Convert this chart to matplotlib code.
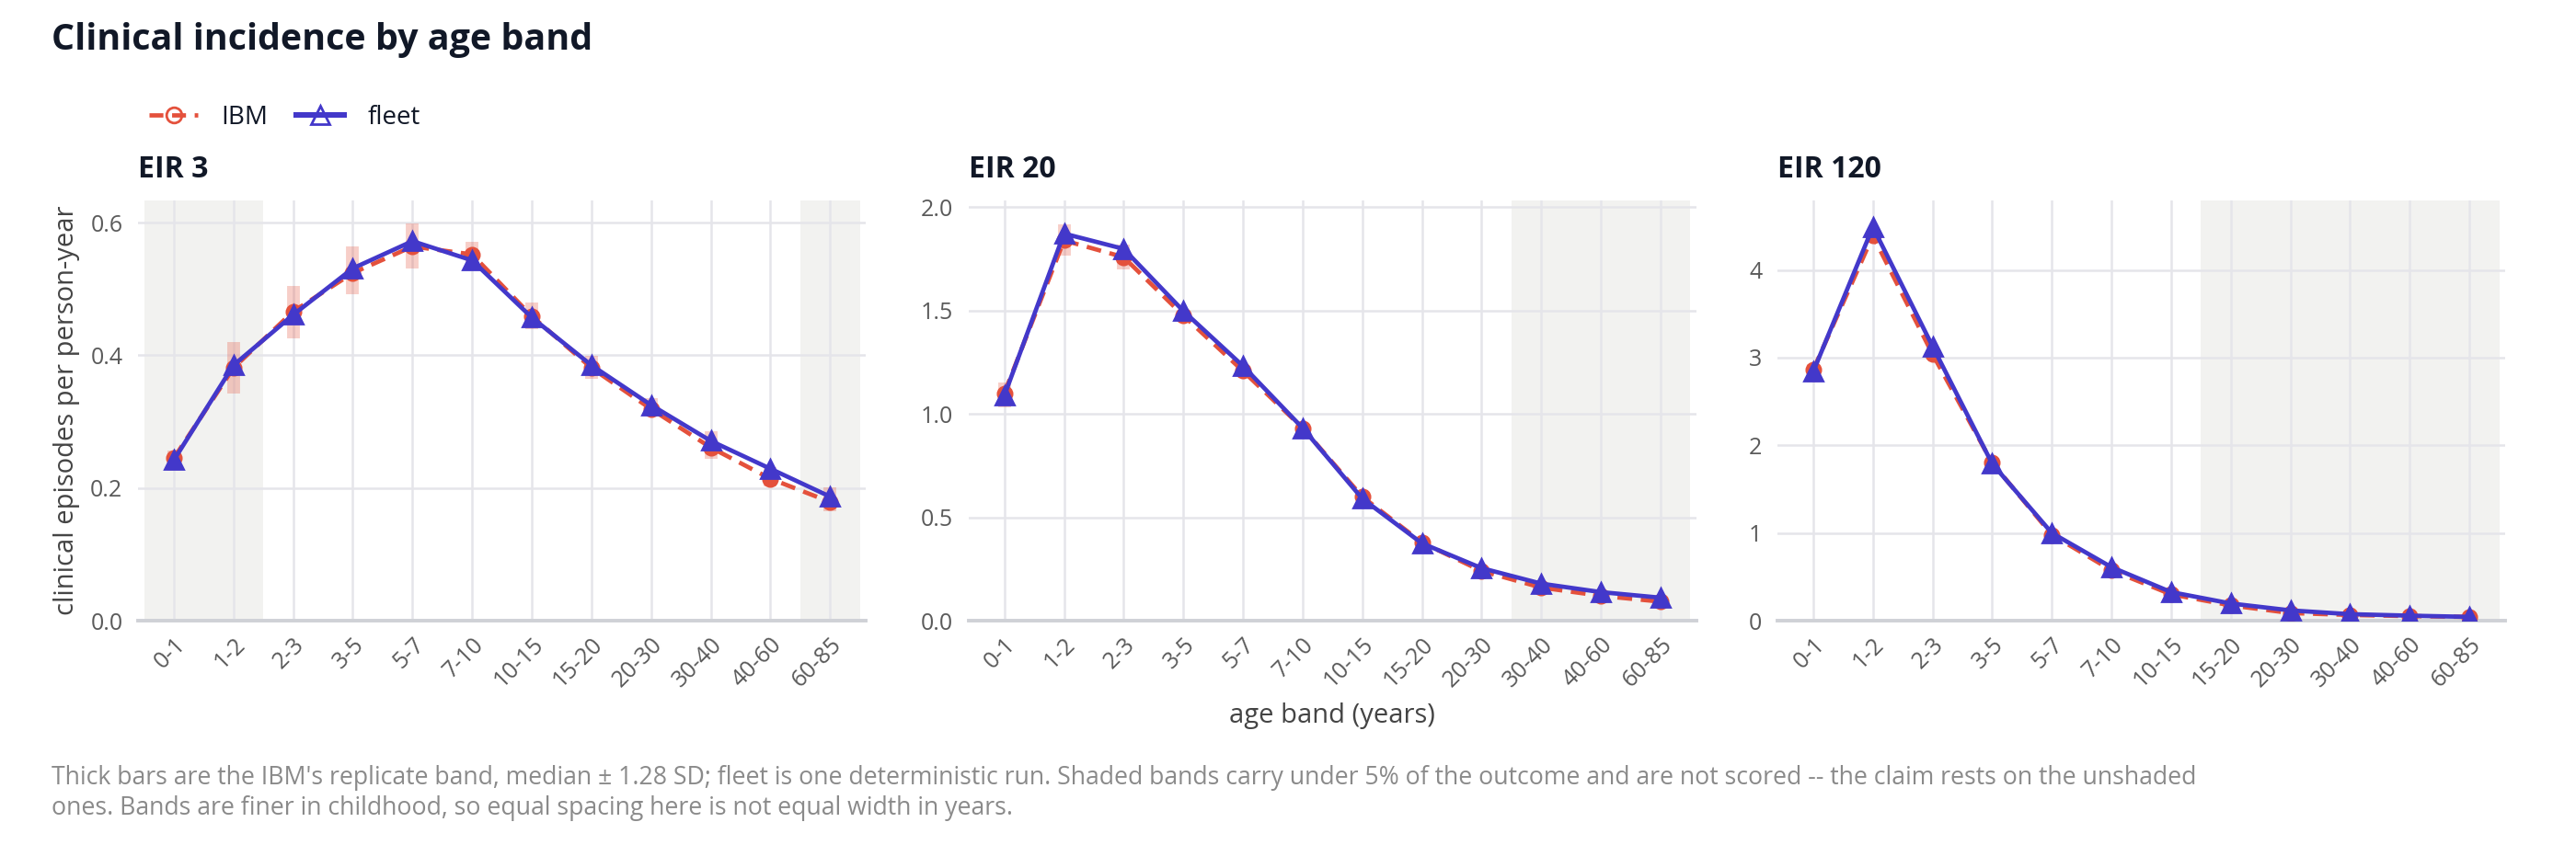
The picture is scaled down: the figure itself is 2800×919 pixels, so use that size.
import numpy as np
import matplotlib
matplotlib.use("Agg")
import matplotlib.pyplot as plt
from matplotlib.lines import Line2D

plt.rcParams['font.family'] = ['Open Sans', 'DejaVu Sans']

age_bands = ['0-1', '1-2', '2-3', '3-5', '5-7', '7-10', '10-15',
             '15-20', '20-30', '30-40', '40-60', '60-85']
panel_titles = ['EIR 3', 'EIR 20', 'EIR 120']

# IBM medians and replicate band (median +/- 1.28 SD)
ibm_3 = [0.245, 0.381, 0.466, 0.524, 0.564, 0.552, 0.459, 0.381, 0.319, 0.261, 0.214, 0.179]
ibm_3_lo = [0.226, 0.343, 0.425, 0.492, 0.531, 0.529, 0.439, 0.364, 0.311, 0.244, 0.203, 0.165]
ibm_3_hi = [0.257, 0.420, 0.504, 0.564, 0.599, 0.571, 0.480, 0.399, 0.335, 0.286, 0.232, 0.201]
fleet_3 = [0.242, 0.385, 0.461, 0.531, 0.572, 0.543, 0.457, 0.385, 0.325, 0.271, 0.229, 0.187]

ibm_20 = [1.100, 1.838, 1.757, 1.475, 1.207, 0.931, 0.599, 0.378, 0.240, 0.160, 0.120, 0.092]
ibm_20_lo = [1.032, 1.764, 1.696, 1.450, 1.185, 0.910, 0.582, 0.366, 0.232, 0.152, 0.113, 0.086]
ibm_20_hi = [1.152, 1.917, 1.816, 1.500, 1.230, 0.952, 0.616, 0.390, 0.248, 0.168, 0.127, 0.098]
fleet_20 = [1.088, 1.871, 1.797, 1.497, 1.231, 0.931, 0.590, 0.374, 0.254, 0.179, 0.138, 0.111]

ibm_120 = [2.86, 4.39, 3.04, 1.80, 0.98, 0.574, 0.300, 0.174, 0.087, 0.065, 0.052, 0.043]
ibm_120_lo = [2.72, 4.33, 2.99, 1.76, 0.96, 0.560, 0.290, 0.168, 0.082, 0.061, 0.049, 0.040]
ibm_120_hi = [2.93, 4.45, 3.09, 1.84, 1.00, 0.588, 0.310, 0.180, 0.092, 0.069, 0.055, 0.046]
fleet_120 = [2.84, 4.49, 3.13, 1.79, 1.00, 0.610, 0.326, 0.196, 0.117, 0.074, 0.057, 0.043]

# unscored (shaded) bands per panel, as index ranges
shaded = [[(0, 1), (11, 11)], [(9, 11)], [(7, 11)]]

RED = '#e4513c'
BLUE = '#4338ca'
INK = '#111827'
GRID = '#e5e5ea'
SHADE = '#f2f2f0'


def draw_panel(ax, ibm, lo, hi, fleet, spans, title, ylim, yticks, fmt):
    x = np.arange(len(age_bands))
    for a, b in spans:
        ax.axvspan(a - 0.5, b + 0.5, color=SHADE, zorder=0, lw=0)
    ax.vlines(x, lo, hi, color=RED, alpha=0.28, lw=5, zorder=2)
    ax.plot(x, ibm, color=RED, ls=(0, (3.4, 2.0)), lw=1.7, marker='o', ms=5.5,
            zorder=3)
    ax.plot(x, fleet, color=BLUE, lw=1.7, marker='^', ms=7.5, zorder=4)

    ax.set_xlim(-0.6, len(age_bands) - 0.4)
    ax.set_ylim(*ylim)
    ax.set_xticks(x)
    ax.set_xticklabels(age_bands, rotation=45, ha='right', rotation_mode='anchor')
    ax.set_yticks(yticks)
    ax.set_yticklabels([fmt.format(t) for t in yticks])
    ax.tick_params(length=0, labelsize=9, colors='#5a5a5a')
    ax.tick_params(axis='y', pad=6)
    ax.tick_params(axis='x', pad=5)
    ax.set_axisbelow(True)
    ax.grid(True, color=GRID, lw=0.9)
    for s in ['top', 'right', 'left']:
        ax.spines[s].set_visible(False)
    ax.spines['bottom'].set_color('#cfd1d6')
    ax.spines['bottom'].set_linewidth(1.4)
    ax.set_title(title, loc='left', fontsize=11.5, fontweight='bold', color=INK, pad=9)


fig = plt.figure(figsize=(14, 4.595), dpi=200)
lefts = [0.0536, 0.376, 0.690]
axes = [fig.add_axes([l, 0.2655, 0.2825, 0.497]) for l in lefts]

draw_panel(axes[0], ibm_3, ibm_3_lo, ibm_3_hi, fleet_3, shaded[0], panel_titles[0],
           (0, 0.633), [0, 0.2, 0.4, 0.6], '{:.1f}')
draw_panel(axes[1], ibm_20, ibm_20_lo, ibm_20_hi, fleet_20, shaded[1], panel_titles[1],
           (0, 2.03), [0, 0.5, 1.0, 1.5, 2.0], '{:.1f}')
draw_panel(axes[2], ibm_120, ibm_120_lo, ibm_120_hi, fleet_120, shaded[2], panel_titles[2],
           (0, 4.79), [0, 1, 2, 3, 4], '{:.0f}')

axes[0].set_ylabel('clinical episodes per person-year', fontsize=10.5, color='#444444',
                   labelpad=4)
axes[1].set_xlabel('age band (years)', fontsize=10.5, color='#444444', labelpad=4)

fig.text(0.02, 0.953, 'Clinical incidence by age band', fontsize=14.2, fontweight='bold',
         color=INK, va='center')

handles = [
    Line2D([], [], color=RED, ls=(0, (3.2, 2.0)), lw=1.7, marker='o', ms=6,
           mfc='none', mec=RED),
    Line2D([], [], color=BLUE, lw=2.2, marker='^', ms=7.5, mfc='none', mec=BLUE),
]
fig.legend(handles, ['IBM', 'fleet'], loc='center left', bbox_to_anchor=(0.053, 0.861),
           ncol=2, frameon=False, fontsize=10, handlelength=1.9, handletextpad=0.9,
           columnspacing=1.1, borderpad=0, labelcolor=INK)

caption = ("Thick bars are the IBM's replicate band, median \u00b1 1.28 SD; fleet is one "
           "deterministic run. Shaded bands carry under 5% of the outcome and are not "
           "scored -- the claim rests on the unshaded\nones. Bands are finer in childhood, "
           "so equal spacing here is not equal width in years.")
fig.text(0.02, 0.028, caption, fontsize=9.6, color='#8a8a8a', va='bottom',
         linespacing=1.25)

fig.savefig('out.png', dpi=200)
